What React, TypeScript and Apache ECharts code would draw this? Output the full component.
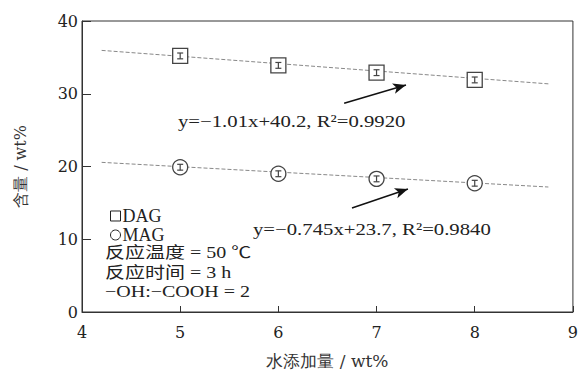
import React, { useEffect, useRef } from "react";
import * as echarts from "echarts";

const waterAdd = [5, 6, 7, 8];
const dagValues = [35.2, 33.9, 32.9, 31.9];
const magValues = [19.9, 19.0, 18.3, 17.7];
const dagErr = [0.4, 0.4, 0.4, 0.4];
const magErr = [0.4, 0.4, 0.4, 0.4];
const dagFit = [[4.2, 35.96], [8.75, 31.36]];
const magFit = [[4.2, 20.57], [8.75, 17.18]];
const arrowDag = [[6.67, 28.7], [7.3, 31.2]];
const arrowMag = [[6.75, 14.3], [7.32, 16.9]];
const xTicks = [4, 5, 6, 7, 8, 9];
const yTicks = [0, 10, 20, 30, 40];

const SERIF = "Liberation Serif, Noto Sans CJK SC, serif";
const AXIS_FONT = "DejaVu Serif";
const GREY = "#444";

function errRender(vals: number[], errs: number[]) {
  return (params: any, api: any) => {
    const i = params.dataIndex;
    const x = waterAdd[i];
    const lo = api.coord([x, vals[i] - errs[i]]);
    const hi = api.coord([x, vals[i] + errs[i]]);
    const w = 3;
    const style = { stroke: GREY, lineWidth: 1.2 };
    return {
      type: "group",
      children: [
        { type: "line", shape: { x1: lo[0], y1: lo[1], x2: hi[0], y2: hi[1] }, style },
        { type: "line", shape: { x1: lo[0] - w, y1: lo[1], x2: lo[0] + w, y2: lo[1] }, style },
        { type: "line", shape: { x1: hi[0] - w, y1: hi[1], x2: hi[0] + w, y2: hi[1] }, style },
      ],
    };
  };
}

export default function App() {
  const ref = useRef<HTMLDivElement>(null);
  useEffect(() => {
    if (!ref.current) return;
    const chart = echarts.init(ref.current, undefined, { renderer: "svg" });
    const arrowLine = (pts: number[][]) => ({
      silent: true,
      symbol: ["none", "arrow"],
      symbolSize: [8, 13],
      label: { show: false },
      lineStyle: { color: "#111", type: "solid", width: 1.5 },
      data: [[{ coord: pts[0] }, { coord: pts[1] }]],
    });
    const txt = (x: number, y: number, text: string, size: number, sx: number) => ({
      type: "text",
      x,
      y,
      scaleX: sx,
      style: { text, fontSize: size, fontFamily: SERIF, fill: "#222", verticalAlign: "middle" },
    });
    chart.setOption({
      animation: false,
      backgroundColor: "#fff",
      textStyle: { fontFamily: SERIF },
      grid: { left: 82, right: 8, top: 21, bottom: 62, show: true, borderColor: "#333", borderWidth: 1, backgroundColor: "transparent" },
      xAxis: {
        type: "value",
        min: xTicks[0],
        max: xTicks[xTicks.length - 1],
        interval: 1,
        name: "水添加量 / wt%",
        nameLocation: "middle",
        nameGap: 40,
        nameTextStyle: { fontSize: 17, color: "#333", fontFamily: AXIS_FONT },
        axisLine: { lineStyle: { color: "#333", width: 1 } },
        axisTick: { inside: true, length: 6, lineStyle: { color: "#333" } },
        axisLabel: { fontSize: 16, color: "#222", fontFamily: AXIS_FONT, margin: 12 },
        splitLine: { show: false },
      },
      yAxis: {
        type: "value",
        min: yTicks[0],
        max: yTicks[yTicks.length - 1],
        interval: 10,
        name: "含量 / wt%",
        nameLocation: "middle",
        nameGap: 54,
        nameTextStyle: { fontSize: 16, color: "#333", fontFamily: AXIS_FONT },
        axisLine: { lineStyle: { color: "#333", width: 1 } },
        axisTick: { inside: true, length: 9, lineStyle: { color: "#333" } },
        axisLabel: { fontSize: 16, color: "#222", fontFamily: AXIS_FONT, margin: 4 },
        splitLine: { show: false },
      },
      legend: {
        orient: "vertical",
        left: 110,
        top: 207,
        padding: 0,
        itemWidth: 10,
        itemHeight: 10,
        itemGap: 1,
        textStyle: { fontSize: 18, lineHeight: 17, color: "#222", fontFamily: SERIF, padding: [0, 0, 0, -3] },
        data: [
          { name: "DAG", icon: "rect", itemStyle: { color: "#fff", borderColor: "#222", borderWidth: 1 } },
          { name: "MAG", icon: "circle", itemStyle: { color: "#fff", borderColor: "#222", borderWidth: 1 } },
        ],
      },
      series: [
        {
          name: "DAG fit",
          type: "line",
          data: dagFit,
          symbol: "none",
          silent: true,
          lineStyle: { color: "#888", width: 1, type: [4, 2] },
          markLine: arrowLine(arrowDag),
          z: 1,
        },
        {
          name: "MAG fit",
          type: "line",
          data: magFit,
          symbol: "none",
          silent: true,
          lineStyle: { color: "#888", width: 1, type: [4, 2] },
          markLine: arrowLine(arrowMag),
          z: 1,
        },
        {
          name: "DAG",
          type: "scatter",
          symbol: "rect",
          symbolSize: 15,
          data: waterAdd.map((x, i) => [x, dagValues[i]]),
          itemStyle: { color: "#fff", borderColor: GREY, borderWidth: 1.3, opacity: 1 },
          z: 3,
        },
        {
          name: "MAG",
          type: "scatter",
          symbol: "circle",
          symbolSize: 15,
          data: waterAdd.map((x, i) => [x, magValues[i]]),
          itemStyle: { color: "#fff", borderColor: GREY, borderWidth: 1.3, opacity: 1 },
          z: 3,
        },
        {
          type: "custom",
          renderItem: errRender(dagValues, dagErr),
          data: waterAdd.map((x, i) => [x, dagValues[i]]),
          z: 4,
          silent: true,
        },
        {
          type: "custom",
          renderItem: errRender(magValues, magErr),
          data: waterAdd.map((x, i) => [x, magValues[i]]),
          z: 4,
          silent: true,
        },
      ],
      graphic: [
        txt(178, 121, "y=−1.01x+40.2, R²=0.9920", 17, 1.22),
        txt(253, 229, "y=−0.745x+23.7, R²=0.9840", 17, 1.22),
        txt(105, 253, "反应温度 = 50 ℃", 16, 1.25),
        txt(105, 273, "反应时间 = 3 h", 16, 1.25),
        txt(105, 292, "−OH:−COOH = 2", 16, 1.25),
      ],
    });
    return () => chart.dispose();
  }, []);
  return <div ref={ref} style={{ width: 581, height: 374, position: "absolute", left: 0, top: 0 }} />;
}
